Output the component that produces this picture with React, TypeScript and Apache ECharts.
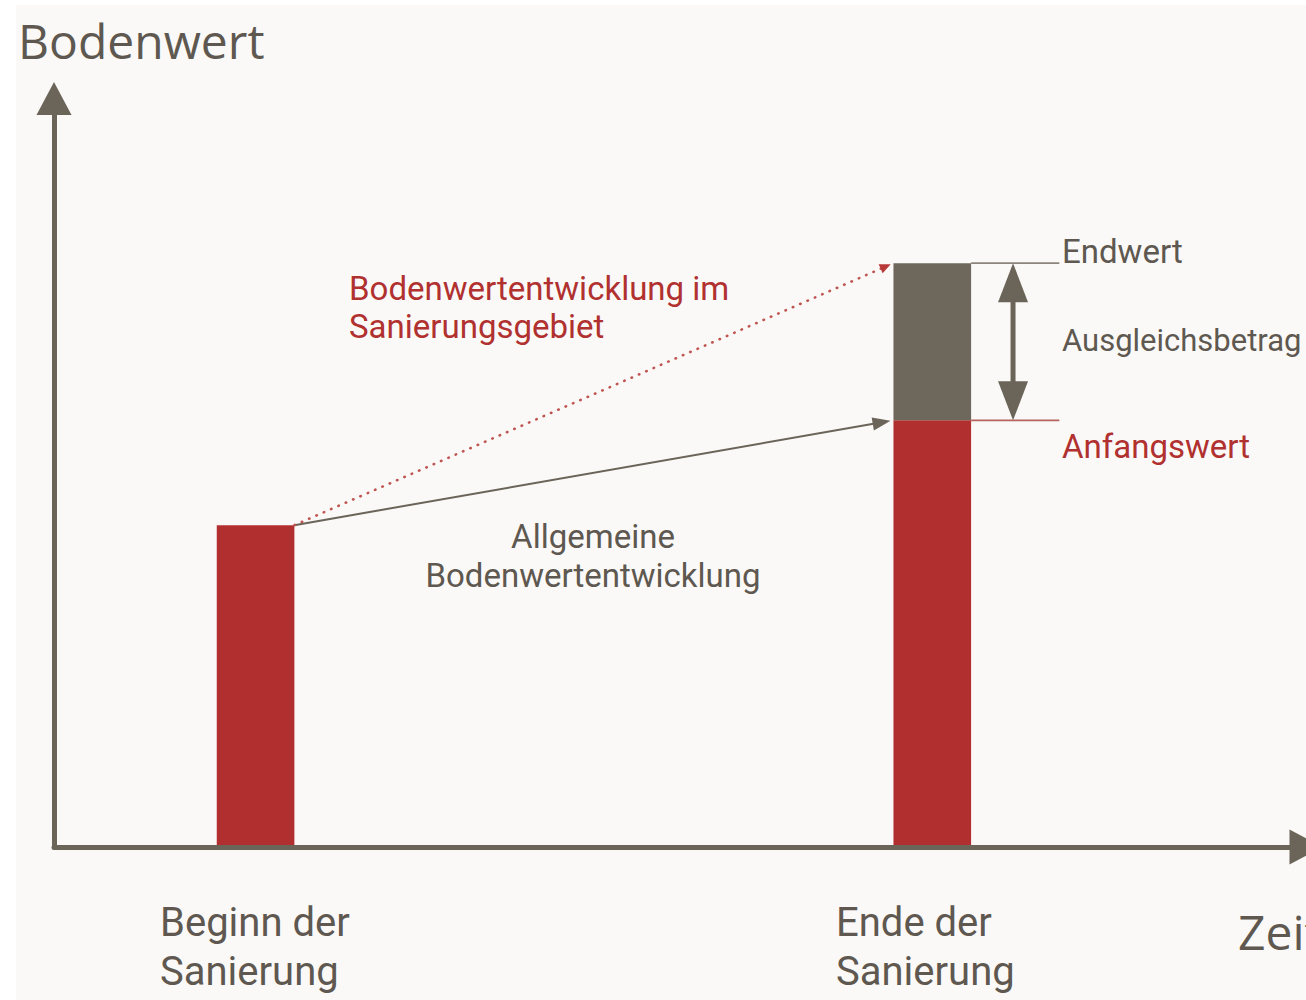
import React, { useEffect, useRef } from 'react';
import * as echarts from 'echarts';

// ---- data (arbitrary value units) ----
const timeLabels = ['Beginn der\nSanierung', 'Ende der\nSanierung'];
const timePositions = [16.1, 70.15];
const barHalfWidth = 3.1;
const startValue = 43; // Bodenwert zu Beginn
const anfangswert = 57; // allgemeine Entwicklung
const endwert = 78; // Entwicklung im Sanierungsgebiet
const ausgleichX = 76.6;
const guideEndX = 80.3;

const axisTitles = ['Bodenwert', 'Zeit'];
const noteRed = ['Bodenwertentwicklung im', 'Sanierungsgebiet'];
const noteGray = ['Allgemeine', 'Bodenwertentwicklung'];
const valueLabels = ['Endwert', 'Ausgleichsbetrag', 'Anfangswert'];

const AXIS = '#6b6459';
const GRAYBAR = '#6e675c';
const RED = '#b22f2f';
const REDTEXT = '#b0312f';
const TEXT = '#5e5850';
const FONT = 'Roboto, "Liberation Sans", sans-serif';

// bars: [x, low, high, colourIndex]
const barData = [
  [timePositions[0], 0, startValue, 0],
  [timePositions[1], 0, anfangswert, 0],
  [timePositions[1], anfangswert, endwert, 1],
];

// arrows / guide lines: [x1, y1, x2, y2, kind]
const arrowData = [
  [timePositions[0] + barHalfWidth, startValue, timePositions[1] - barHalfWidth, anfangswert, 0],
  [timePositions[0] + barHalfWidth, startValue, timePositions[1] - barHalfWidth, endwert, 1],
  [ausgleichX, endwert, ausgleichX, anfangswert, 2],
  [timePositions[1] + barHalfWidth, endwert, guideEndX, endwert, 3],
  [timePositions[1] + barHalfWidth, anfangswert, guideEndX, anfangswert, 4],
];

function head(tip: number[], dx: number, dy: number, L: number, W: number) {
  const bx = tip[0] - dx * L;
  const by = tip[1] - dy * L;
  const px = -dy;
  const py = dx;
  return [
    [tip[0], tip[1]],
    [bx + (px * W) / 2, by + (py * W) / 2],
    [bx - (px * W) / 2, by - (py * W) / 2],
  ];
}

function renderArrow(params: any, api: any) {
  const a = api.coord([api.value(0), api.value(1)]);
  const b = api.coord([api.value(2), api.value(3)]);
  const kind = api.value(4);
  let dx = b[0] - a[0];
  let dy = b[1] - a[1];
  const len = Math.sqrt(dx * dx + dy * dy);
  dx /= len;
  dy /= len;
  if (kind === 0 || kind === 1) {
    const tip = [b[0] - dx * 3, b[1] - dy * 3];
    const L = kind === 0 ? 18 : 11;
    const W = kind === 0 ? 13 : 10;
    const color = kind === 0 ? AXIS : '#b83a38';
    return {
      type: 'group',
      children: [
        {
          type: 'line',
          shape: { x1: a[0], y1: a[1], x2: tip[0] - dx * L * 0.8, y2: tip[1] - dy * L * 0.8 },
          style: kind === 0
            ? { stroke: color, lineWidth: 2 }
            : { stroke: '#bf5552', lineWidth: 2.6, lineDash: [0.5, 7.5], lineCap: 'round' },
        },
        { type: 'polygon', shape: { points: head(tip, dx, dy, L, W) }, style: { fill: color } },
      ],
    };
  }
  if (kind === 2) {
    const L = 39;
    const W = 30;
    return {
      type: 'group',
      children: [
        {
          type: 'line',
          shape: { x1: a[0], y1: a[1] + dy * L * 0.8, x2: b[0], y2: b[1] - dy * L * 0.8 },
          style: { stroke: AXIS, lineWidth: 5 },
        },
        { type: 'polygon', shape: { points: head(a, -dx, -dy, L, W) }, style: { fill: AXIS } },
        { type: 'polygon', shape: { points: head(b, dx, dy, L, W) }, style: { fill: AXIS } },
      ],
    };
  }
  return {
    type: 'line',
    shape: { x1: a[0], y1: a[1], x2: b[0], y2: b[1] },
    style: { stroke: kind === 3 ? '#8c857c' : '#b5645d', lineWidth: 1.6 },
  };
}

function txt(text: string, x: number, y: number, size: number, color: string, family = FONT, align = 'left') {
  return {
    type: 'text',
    x,
    y,
    style: { text, fontSize: size, fontFamily: family, fill: color, align, verticalAlign: 'middle' },
  };
}

export default function App() {
  const ref = useRef<HTMLDivElement>(null);
  useEffect(() => {
    if (!ref.current) return;
    const chart = echarts.init(ref.current, undefined, { renderer: 'svg' });
    const beginLines = timeLabels[0].split('\n');
    const endLines = timeLabels[1].split('\n');
    chart.setOption({
      animation: false,
      grid: { left: 54, top: 98.5, width: 1257, bottom: 153 },
      xAxis: {
        type: 'value',
        min: 0,
        max: 100,
        z: 5,
        axisLine: {
          show: true,
          symbol: ['none', 'triangle'],
          symbolSize: [35, 33],
          lineStyle: { color: AXIS, width: 5 },
        },
        axisTick: { show: false },
        axisLabel: { show: false },
        splitLine: { show: false },
      },
      yAxis: {
        type: 'value',
        min: 0,
        max: 100,
        z: 5,
        axisLine: {
          show: true,
          symbol: ['none', 'triangle'],
          symbolSize: [35, 33],
          lineStyle: { color: AXIS, width: 5 },
        },
        axisTick: { show: false },
        axisLabel: { show: false },
        splitLine: { show: false },
      },
      series: [
        {
          type: 'custom',
          name: 'bars',
          z: 2,
          renderItem: (params: any, api: any) => {
            const x = api.value(0);
            const p1 = api.coord([x - barHalfWidth, api.value(2)]);
            const p2 = api.coord([x + barHalfWidth, api.value(1)]);
            return {
              type: 'rect',
              shape: { x: p1[0], y: p1[1], width: p2[0] - p1[0], height: p2[1] - p1[1] },
              style: { fill: api.value(3) ? GRAYBAR : RED },
            };
          },
          data: barData,
        },
        {
          type: 'custom',
          name: 'arrows',
          z: 3,
          renderItem: renderArrow,
          data: arrowData,
        },
      ],
      graphic: [
        txt(axisTitles[0], 18, 40, 48, TEXT, '"Open Sans", sans-serif'),
        txt(axisTitles[1], 1238, 931, 48, TEXT, '"Open Sans", sans-serif'),
        txt(beginLines[0], 160, 922, 40, TEXT),
        txt(beginLines[1], 160, 971, 40, TEXT),
        txt(endLines[0], 836, 922, 40, TEXT),
        txt(endLines[1], 836, 971, 40, TEXT),
        txt(noteRed[0], 349, 288, 33, REDTEXT),
        txt(noteRed[1], 349, 326, 33, REDTEXT),
        txt(noteGray[0], 593, 536, 33, TEXT, FONT, 'center'),
        txt(noteGray[1], 593, 575, 33, TEXT, FONT, 'center'),
        txt(valueLabels[0], 1062, 251, 33, TEXT),
        txt(valueLabels[1], 1062, 340, 31, TEXT),
        txt(valueLabels[2], 1062, 446, 33, REDTEXT),
      ],
    });
    return () => chart.dispose();
  }, []);
  return (
    <div style={{ position: 'fixed', left: 0, top: 0, width: 1306, height: 1000, background: '#ffffff', overflow: 'hidden' }}>
      <div style={{ position: 'absolute', left: 16, top: 5, right: 0, bottom: 0, background: '#faf9f7' }} />
      <div ref={ref} style={{ position: 'absolute', left: 0, top: 0, width: 1306, height: 1000 }} />
    </div>
  );
}
